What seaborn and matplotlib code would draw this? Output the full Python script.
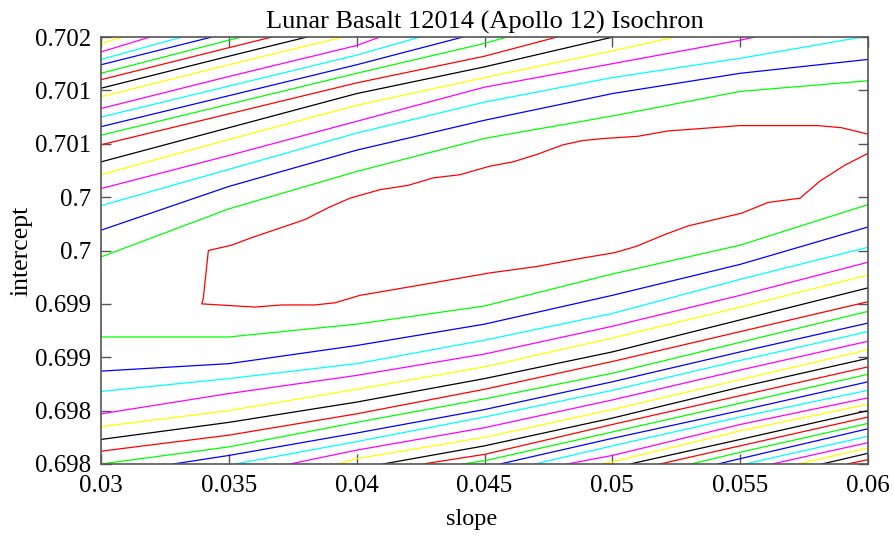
import matplotlib
matplotlib.use("Agg")
import matplotlib.pyplot as plt
import seaborn as sns

# ---------------- data ----------------
# contour colour order (level 1 = innermost)
level_colors = ["#ff0000", "#00ff00", "#0000ff", "#00ffff", "#ff00ff", "#ffff00", "#000000"]

slope_cols = [0.030, 0.035, 0.040, 0.045, 0.050, 0.055, 0.060]

# intercept where each contour (level 2, 3, ...) crosses a slope column, upper branch
upper_030 = [0.69994, 0.70019, 0.70042, 0.70058, 0.70071, 0.70083, 0.70099, 0.70108, 0.70116,
             0.70125, 0.70133, 0.70144, 0.70152, 0.70160, 0.70166, 0.70174, 0.70179, 0.70186, 0.70194]
upper_035 = [0.70039, 0.70060, 0.70076, 0.70089, 0.70104, 0.70115, 0.70128, 0.70137, 0.70145,
             0.70154, 0.70163, 0.70174, 0.70182, 0.70190, 0.70197]
upper_040 = [0.70074, 0.70094, 0.70110, 0.70121, 0.70136, 0.70147, 0.70157, 0.70166, 0.70174,
             0.70183, 0.70192]
upper_045 = [0.70105, 0.70122, 0.70139, 0.70153, 0.70162, 0.70172, 0.70182, 0.70194]
upper_050 = [0.70126, 0.70147, 0.70162, 0.70175, 0.70187]
upper_055 = [0.70149, 0.70166, 0.70180, 0.70197]
upper_060 = [0.70159, 0.70179]
# slope where upper contours (levels 2, 3, ...) leave through the top edge
upper_exit = [None, None, 0.05977, 0.05558, 0.05245, 0.05003, 0.04784, 0.04588, 0.04416,
              0.04248, 0.04091, 0.03947, 0.03806, 0.03669, 0.03551, 0.03434, 0.03317,
              0.03192, 0.03086]

# lower branch crossings (levels 2, 3, ...)
lower_030 = [0.69919, 0.69887, 0.69868, 0.69847, 0.69835, 0.69823, 0.69812]
lower_035 = [0.69919, 0.69894, 0.69880, 0.69866, 0.69850, 0.69839, 0.69827, 0.69816, 0.69808]
lower_040 = [0.69931, 0.69911, 0.69894, 0.69883, 0.69870, 0.69858, 0.69847, 0.69839, 0.69829,
             0.69821, 0.69813, 0.69805]
lower_045 = [0.69948, 0.69931, 0.69916, 0.69903, 0.69891, 0.69880, 0.69870, 0.69861, 0.69851,
             0.69844, 0.69834, 0.69825, 0.69817, 0.69809, 0.69803]
lower_050 = [0.69978, 0.69958, 0.69941, 0.69929, 0.69918, 0.69905, 0.69896, 0.69885, 0.69877,
             0.69869, 0.69860, 0.69851, 0.69843, 0.69837, 0.69830, 0.69824, 0.69817, 0.69808,
             0.69802]
lower_055 = [0.70005, 0.69987, 0.69973, 0.69958, 0.69947, 0.69935, 0.69924, 0.69914, 0.69905,
             0.69897, 0.69888, 0.69879, 0.69872, 0.69864, 0.69857, 0.69850, 0.69844, 0.69837,
             0.69831, 0.69823, 0.69817, 0.69811, 0.69805]
lower_060 = [0.70043, 0.70022, 0.70003, 0.69989, 0.69977, 0.69965, 0.69952, 0.69943, 0.69932,
             0.69924, 0.69915, 0.69907, 0.69899, 0.69891, 0.69884, 0.69877, 0.69869, 0.69862,
             0.69856, 0.69850, 0.69844, 0.69838, 0.69833, 0.69826, 0.69820, 0.69815, 0.69810,
             0.69804]
# slope where lower contours (levels 2, 3, ...) leave through the bottom edge
lower_exit = [None, None, None, None, None, None, None, 0.03000, 0.03282, 0.03524, 0.03739,
              0.03927, 0.04103, 0.04259, 0.04412, 0.04561, 0.04697, 0.04823, 0.04952,
              0.05069, 0.05186, 0.05308, 0.05413, 0.05519, 0.05625, 0.05726, 0.05820, 0.05918]

# innermost (level 1) contour, open at the right edge
inner_slope = [0.06000, 0.05897, 0.05804, 0.05499, 0.05389, 0.05218, 0.05100, 0.04971, 0.04885,
               0.04807, 0.04705, 0.04611, 0.04521, 0.04404, 0.04299, 0.04201, 0.04091, 0.03974,
               0.03888, 0.03798, 0.03589, 0.03511, 0.03420, 0.03400, 0.03394, 0.03602, 0.03707,
               0.03837, 0.03915, 0.04013, 0.04209, 0.04521, 0.04705, 0.04885, 0.05010, 0.05095,
               0.05206, 0.05296, 0.05506, 0.05609, 0.05734, 0.05812, 0.05910, 0.06000]
inner_icpt = [0.70109, 0.70115, 0.70117, 0.70117, 0.70115, 0.70112, 0.70107, 0.70105, 0.70103,
              0.70099, 0.70090, 0.70083, 0.70079, 0.70071, 0.70068, 0.70061, 0.70057, 0.70049,
              0.70040, 0.70029, 0.70012, 0.70005, 0.70000, 0.69955, 0.69950, 0.69947, 0.69949,
              0.69949, 0.69951, 0.69958, 0.69966, 0.69979, 0.69985, 0.69993, 0.69998, 0.70004,
              0.70015, 0.70023, 0.70035, 0.70045, 0.70049, 0.70065, 0.70080, 0.70091]

x_ticks = [0.030, 0.035, 0.040, 0.045, 0.050, 0.055, 0.060]
x_tick_labels = ["0.03", "0.035", "0.04", "0.045", "0.05", "0.055", "0.06"]
y_ticks = [0.6980, 0.6985, 0.6990, 0.6995, 0.7000, 0.7005, 0.7010, 0.7015, 0.7020]
y_tick_labels = ["0.698", "0.698", "0.699", "0.699", "0.7", "0.7", "0.701", "0.701", "0.702"]

title_text = "Lunar Basalt 12014 (Apollo 12) Isochron"
x_label = "slope"
y_label = "intercept"

# ---------------- plotting ----------------
sns.set_theme(style="white")
plt.rcParams["font.family"] = ["Liberation Serif", "DejaVu Serif"]

fig = plt.figure(figsize=(8.95, 5.44), dpi=100)
ax = fig.add_axes([101 / 895, 1 - 464 / 544, 767 / 895, 427 / 544])

LW = 0.9


def draw(xs, ys, color):
    sns.lineplot(x=xs, y=ys, sort=False, estimator=None, color=color,
                 linewidth=LW, ax=ax, legend=False)


def branch_lines(columns, exits, edge_value):
    nlev = max(len(c) for c in columns)
    for i in range(nlev):
        level = i + 2
        pts = [(s, col[i]) for s, col in zip(slope_cols, columns) if len(col) > i]
        if i < len(exits) and exits[i] is not None:
            pts.append((exits[i], edge_value))
        pts.sort(key=lambda p: p[0])
        draw([p[0] for p in pts], [p[1] for p in pts], level_colors[(level - 1) % 7])


upper_cols = [upper_030, upper_035, upper_040, upper_045, upper_050, upper_055, upper_060]
lower_cols = [lower_030, lower_035, lower_040, lower_045, lower_050, lower_055, lower_060]

branch_lines(upper_cols, upper_exit, y_ticks[-1])
branch_lines(lower_cols, lower_exit, y_ticks[0])
draw(inner_slope, inner_icpt, level_colors[0])

ax.set_xlim(x_ticks[0], x_ticks[-1])
ax.set_ylim(y_ticks[0], y_ticks[-1])
ax.set_xticks(x_ticks)
ax.set_xticklabels(x_tick_labels)
ax.set_yticks(y_ticks)
ax.set_yticklabels(y_tick_labels)

frame_col = "#555555"
for sp in ax.spines.values():
    sp.set_visible(True)
    sp.set_color(frame_col)
    sp.set_linewidth(1.2)
ax.tick_params(direction="in", length=7, width=1.0, color=frame_col,
               top=True, right=True, bottom=True, left=True,
               labelsize=18, labelcolor="black")
ax.tick_params(axis="x", pad=8)
ax.tick_params(axis="y", pad=7)

ax.set_title(title_text, fontsize=19, color="black", pad=6)
ax.set_xlabel(x_label, fontsize=17.5, color="black")
ax.set_ylabel(y_label, fontsize=18.5, color="black", labelpad=2)
ax.xaxis.set_label_coords((472 - 101) / 767, -0.105)
ax.grid(False)
ax.set_facecolor("white")
fig.patch.set_facecolor("white")

fig.savefig("out.png", dpi=100)
